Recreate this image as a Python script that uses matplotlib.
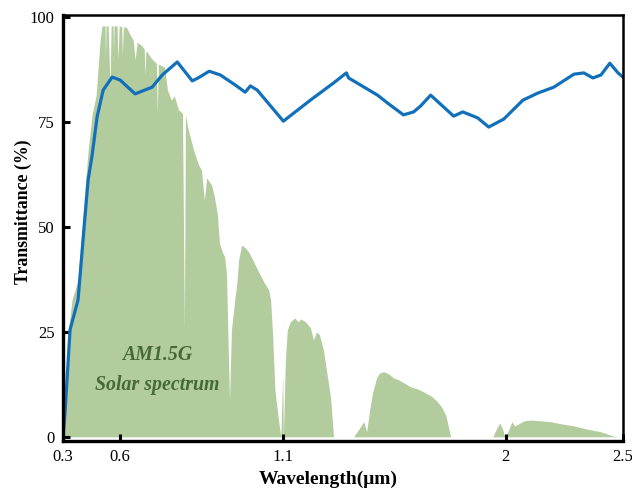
import numpy as np
import matplotlib
matplotlib.use('Agg')
import matplotlib.pyplot as plt

plt.rcParams['font.family'] = ['Liberation Serif', 'DejaVu Serif']

# blue transmittance curve (wavelength in um, transmittance in %)
trans_wl = [0.300, 0.3105, 0.337, 0.379, 0.411, 0.432, 0.453, 0.479, 0.511, 0.558,
            0.600, 0.646, 0.698, 0.729, 0.775, 0.821, 0.839, 0.873, 0.907, 0.953,
            0.983, 0.999, 1.020, 1.100, 1.209, 1.303, 1.355, 1.364, 1.481, 1.522,
            1.586, 1.627, 1.655, 1.696, 1.789, 1.826, 1.886, 1.931, 1.992, 2.073,
            2.137, 2.205, 2.291, 2.333, 2.372, 2.406, 2.444, 2.479, 2.500]
trans_val = [0.0, 5.7, 25.5, 32.6, 50.0, 61.2, 67.1, 76.2, 82.6, 85.7,
             85.0, 81.7, 83.3, 86.2, 89.3, 84.8, 85.5, 87.1, 86.2, 83.8,
             82.1, 83.6, 82.6, 75.2, 80.2, 84.3, 86.7, 85.5, 81.4, 79.5,
             76.7, 77.4, 78.8, 81.4, 76.4, 77.4, 76.0, 73.8, 75.7, 80.2,
             81.9, 83.3, 86.4, 86.7, 85.5, 86.2, 89.0, 86.7, 85.7]

# AM1.5G solar spectrum outline (scaled to the same axis)
spec_wl = [0.300, 0.3105, 0.326, 0.347, 0.379, 0.411, 0.432, 0.453, 0.474, 0.495,
           0.505, 0.521, 0.523, 0.526, 0.537, 0.547, 0.553, 0.563, 0.565, 0.568,
           0.584, 0.589, 0.595, 0.605, 0.607, 0.610, 0.619, 0.628, 0.640,
           0.646, 0.652, 0.665, 0.674, 0.676, 0.679, 0.683, 0.695, 0.711, 0.714,
           0.717, 0.736, 0.745, 0.757, 0.766, 0.779, 0.791, 0.797, 0.800, 0.809,
           0.825, 0.840, 0.849, 0.858, 0.865, 0.880, 0.889, 0.898, 0.904, 0.913,
           0.920, 0.926, 0.929, 0.935, 0.941, 0.951, 0.957, 0.963, 0.972, 0.984,
           0.994, 1.009, 1.024, 1.040, 1.055, 1.061, 1.067, 1.074, 1.083, 1.092,
           1.098, 1.100, 1.108, 1.116, 1.128, 1.145, 1.161, 1.169, 1.189, 1.209,
           1.222, 1.234, 1.246, 1.262, 1.274, 1.291, 1.303,
           1.384, 1.404, 1.425, 1.437, 1.449, 1.461, 1.477, 1.489, 1.506, 1.526,
           1.546, 1.566, 1.586, 1.615, 1.643, 1.668, 1.696, 1.720, 1.740, 1.757,
           1.769, 1.777,
           1.947, 1.964, 1.976, 1.988, 1.996, 2.009, 2.026, 2.038, 2.056, 2.077,
           2.107, 2.150, 2.192, 2.235, 2.291, 2.342, 2.406, 2.457, 2.479, 2.500]
spec_val = [0.0, 7.6, 24.3, 32.6, 37.4, 56.4, 68.3, 76.7, 81.4, 94.5,
            97.9, 97.9, 90.0, 97.9, 97.9, 83.8, 97.9, 97.9, 92.0, 97.9,
            97.9, 89.8, 97.9, 97.7, 91.0, 97.6, 97.6, 96.2, 94.5,
            89.8, 94.0, 93.3, 92.4, 86.0, 92.0, 91.7, 90.2, 89.0, 77.1,
            88.8, 88.1, 82.6, 80.2, 81.2, 77.9, 77.1, 25.5, 76.7, 73.1,
            68.3, 64.8, 63.6, 56.4, 61.7, 60.0, 57.1, 52.9, 46.2, 44.0,
            42.9, 38.6, 27.9, 8.8, 25.5, 32.6, 36.2, 42.1, 45.7, 45.0,
            44.0, 41.7, 39.3, 36.9, 35.0, 32.6, 24.3, 11.2, 5.2, 0.0,
            14.8, 0.0, 18.3, 25.5, 27.4, 28.3, 27.4, 28.1, 27.4, 26.0,
            23.1, 25.0, 24.3, 20.7, 16.0, 9.3, 0.0,
            0.0, 1.7, 3.6, 1.2, 6.4, 10.5, 14.0, 15.2, 15.5, 15.0,
            14.0, 13.6, 12.9, 11.9, 11.4, 10.7, 9.8, 8.6, 7.1, 5.2,
            2.1, 0.0,
            0.0, 2.1, 3.3, 1.7, 0.0, 1.2, 3.6, 2.6, 3.1, 3.8,
            4.0, 3.8, 3.6, 3.1, 2.6, 1.9, 1.2, 0.2, 0.0, 0.0]

x_ticks = [0.3, 0.6, 1.1, 2, 2.5]
x_tick_labels = ['0.3', '0.6', '1.1', '2', '2.5']
y_ticks = [0, 25, 50, 75, 100]

# the original axis is stretched unevenly between the tick marks
break_wl = [0.3, 0.6, 1.1, 2.0, 2.5]
break_pos = [0, 57, 220, 442, 559]

def fwd(x):
    return np.interp(x, break_wl, break_pos)

def inv(x):
    return np.interp(x, break_pos, break_wl)


fig = plt.figure(figsize=(6.32, 4.88), dpi=100)
ax = fig.add_axes([0.0997, 0.0963, 0.886, 0.873])
ax.set_xscale('function', functions=(fwd, inv))

ax.fill_between(spec_wl, spec_val, 0, color='#b3cc9e', lw=0)
ax.plot(trans_wl, trans_val, color='#1270bb', lw=2.3, solid_joinstyle='round')

ax.text(0.713, 19.5, 'AM1.5G', ha='center', va='center', fontsize=14.3,
        fontweight='bold', style='italic', color='#466a36')
ax.text(0.713, 12.4, 'Solar spectrum', ha='center', va='center', fontsize=14.3,
        fontweight='bold', style='italic', color='#466a36')

ax.set_xlim(0.3, 2.5)
ax.set_ylim(-1, 100.5)
ax.set_xticks(x_ticks)
ax.set_xticklabels(x_tick_labels)
ax.set_yticks(y_ticks)
ax.minorticks_off()
ax.tick_params(direction='in', length=5, width=2.2, labelsize=12, pad=6)

for s in ax.spines.values():
    s.set_linewidth(1.8)
ax.spines['bottom'].set_linewidth(2.4)
ax.spines['left'].set_linewidth(2.4)

ax.set_xlabel('Wavelength(μm)', fontsize=14, fontweight='bold')
ax.set_ylabel('Transmittance (%)', fontsize=12.8, fontweight='bold')
ax.xaxis.set_label_coords(0.473, -0.07)
ax.yaxis.set_label_coords(-0.0554, 0.538)

fig.savefig('out.png', dpi=100)
